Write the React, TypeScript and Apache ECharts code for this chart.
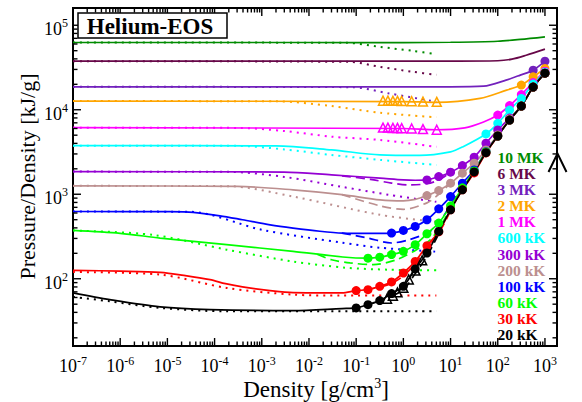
import React, { useEffect, useRef } from 'react';
import * as echarts from 'echarts';

type Pt = [number, number];

const SERIF = '"Liberation Serif", "Times New Roman", serif';

// Axis ranges: density [g/cm3] and pressure/density [kJ/g]
const RHO_MIN = 1e-7;
const RHO_MAX = 1800;
const PD_MIN = 16;
const PD_MAX = 160000;

// Densities of the simulation points (circles) and of the triangle points
const RHO_GRID = [0.1, 0.178, 0.316, 0.562, 1, 1.78, 3.16, 5.62, 10, 17.8, 31.6, 56.2, 100, 178, 316, 562, 1000];
const RHO_TRI = [0.37, 0.47, 0.6, 0.75, 0.92, 1.5, 2.6, 5.1];
const RHO_TRI_20K = [0.45, 0.6, 0.75, 1.0, 1.3, 1.8, 2.5];

// 10 MK
const SOLID_10MK: Pt[] = [[1e-7, 62500], [0.01, 62500], [1, 62400], [10, 62900], [100, 64700], [300, 68000], [1000, 73000]];
const DOT_10MK: Pt[] = [[1e-7, 62500], [0.06, 62000], [0.32, 55400], [1.6, 49700], [5, 45500]];

// 6 MK
const SOLID_6MK: Pt[] = [[1e-7, 37600], [10, 37600], [100, 38000], [200, 39700], [400, 44200], [1000, 52100]];
const DOT_6MK: Pt[] = [[1e-7, 37600], [0.07, 36900], [0.32, 32200], [1.6, 28100], [5, 25900]];

// 3 MK
const SOLID_3MK: Pt[] = [[1e-7, 18700], [10, 18700], [50, 19000], [150, 22400], [300, 25700]];
const CIRC_3MK = [29400, 37600];
const DOT_3MK: Pt[] = [[1e-7, 18700], [0.08, 18500], [0.5, 15600], [5, 12400]];

// 2 MK
const SOLID_2MK: Pt[] = [[1e-7, 12670], [1, 12500], [5, 12230], [42, 13630], [154, 17080]];
const CIRC_2MK = [19570, 24530, 30820];
const TRI_2MK = [12800, 12800, 12750, 12750, 12700, 12600, 12500, 12400];
const DOT_2MK: Pt[] = [[1e-7, 12670], [0.002, 12600], [0.03, 11060], [0.32, 9220], [5, 8140]];

// 1 MK
const SOLID_1MK: Pt[] = [[1e-7, 6130], [1, 6000], [5, 5800], [20, 6100], [50, 7160]];
const CIRC_1MK = [8660, 11210, 15120, 20950, 28640];
const TRI_1MK = [6150, 6150, 6100, 6100, 6050, 6000, 5900, 5800];
const DOT_1MK: Pt[] = [[1e-7, 6130], [3e-4, 6100], [3e-3, 5600], [0.03, 4800], [0.32, 4390], [5, 3640]];

// 600 kK
const SOLID_600K: Pt[] = [[1e-7, 3760], [2e-3, 3740], [0.03, 3350], [0.32, 2920], [2.2, 2880], [10, 3170], [18, 3630]];
const CIRC_600K = [5170, 6910, 9920, 13630, 20110, 27870];
const DOT_600K: Pt[] = [[1e-7, 3760], [3e-4, 3740], [3e-3, 3390], [0.03, 2920], [0.32, 2550], [5, 2220]];

// 300 kK
const SOLID_300K: Pt[] = [[1e-7, 1853], [3e-3, 1830], [0.03, 1694], [0.32, 1550], [1, 1480], [1.78, 1465]];
const CIRC_300K = [1479, 1618, 1824, 2182, 2742, 4012, 5760, 7980, 11060, 18530, 27120];
const DASH_300K: Pt[] = [[0.05, 1650], [0.2, 1500], [0.56, 1357], [1.3, 1290], [3.16, 1330], [5.62, 1479], [10, 1824]];
const DOT_300K: Pt[] = [[1e-7, 1853], [2e-4, 1840], [3e-3, 1605], [0.05, 1223], [0.5, 984], [5, 813]];

// 200 kK
const SOLID_200K: Pt[] = [[1e-7, 1257], [3e-4, 1240], [4.6e-3, 1127], [0.05, 990], [0.32, 859], [1, 836], [1.78, 870]];
const CIRC_200K = [965, 1106, 1352, 1775, 2329, 3343, 5027, 7770, 11060, 18530, 27120];
const DASH_200K: Pt[] = [[0.05, 990], [0.32, 729], [1, 663], [3.16, 791], [5.62, 1000], [10, 1352]];
const DOT_200K: Pt[] = [[1e-7, 1257], [2e-4, 1245], [4.6e-3, 939], [0.32, 571], [5, 472]];

// 100 kK
const SOLID_100K: Pt[] = [[1e-7, 625], [1e-5, 622], [3.5e-5, 611], [1.3e-4, 556], [3.9e-4, 499], [1.5e-3, 435], [4.6e-3, 398], [0.017, 365], [0.052, 347], [0.2, 344]];
const CIRC_100K = [347, 373, 416, 499, 672, 939, 1352, 1942, 3192, 4893, 7556, 11060, 18530, 27120];
const DASH_100K: Pt[] = [[0.05, 347], [0.178, 303], [0.56, 265], [1.3, 289], [3.16, 347], [5, 416], [10, 750], [17.8, 1300]];
const DOT_100K: Pt[] = [[1e-7, 625], [3e-5, 620], [1e-3, 380], [0.05, 267], [0.32, 233], [5, 209]];

// 60 kK
const SOLID_60K: Pt[] = [[1e-7, 373], [1e-6, 345], [7e-6, 303], [1.8e-4, 253], [4.6e-3, 211], [0.052, 181]];
const CIRC_60K = [175, 180, 193, 211, 253, 341, 456, 729, 1190, 1889, 3168, 4893, 7556, 11060, 18530, 27120];
const DASH_60K: Pt[] = [[0.015, 195], [0.03, 168], [0.074, 154], [0.23, 147], [0.72, 168], [1.9, 221], [3.7, 289], [5.62, 390], [10, 680], [17.8, 1150]];
const DOT_60K: Pt[] = [[1e-7, 373], [5e-6, 330], [1.8e-4, 221], [4.6e-3, 160], [0.06, 135], [0.5, 128], [5, 126]];

// 30 kK
const SOLID_30K: Pt[] = [[1e-7, 125.7], [1e-6, 123], [7e-6, 119], [2.4e-5, 109], [8e-5, 97.6], [1.7e-4, 87.5], [3.9e-4, 80], [1.5e-3, 72.4], [4.6e-3, 68.5], [0.05, 68]];
const CIRC_30K = [72.4, 74.3, 81.4, 91.7, 117, 160.5, 246, 360, 654, 1127, 1789, 3083, 4893, 7556, 11060, 18530, 27120];
const DASH_30K: Pt[] = [[0.316, 80], [0.562, 88], [1, 108], [1.78, 150], [3.16, 230], [5.62, 345], [10, 640]];
const DOT_30K: Pt[] = [[1e-7, 120], [7e-6, 112], [1.8e-4, 77.9], [4.6e-3, 64.9], [0.05, 63.2], [5, 63.2]];

// 20 kK
const SOLID_20K: Pt[] = [[1e-7, 68], [6e-7, 56.6], [7e-6, 46.5], [8e-5, 43.2], [4.6e-3, 42], [0.05, 44.4]];
const CIRC_20K = [45.2, 49.4, 55.1, 66.7, 81.4, 130.6, 201.6, 362.7, 654, 1127, 1839, 3107, 4893, 7556, 11060, 18530, 27120];
const TRI_20K = [58, 63, 69, 78, 98, 125, 165];
const DASH_20K: Pt[] = [[0.562, 62], [1, 74], [1.78, 115], [3.16, 185], [5.62, 340]];
const DOT_20K: Pt[] = [[1e-7, 61], [6e-7, 54.1], [7e-6, 45.2], [1.8e-4, 41.2], [5, 41.2]];

const onGrid = (start: number, vals: number[]): Pt[] => vals.map((v, i) => [RHO_GRID[start + i], v] as Pt);
const zip = (xs: number[], ys: number[]): Pt[] => ys.map((y, i) => [xs[i], y] as Pt);

interface Curve {
  label: string;
  color: string;
  solid: Pt[];
  dotted: Pt[];
  dashed?: Pt[];
  circles?: Pt[];
  triangles?: Pt[];
}

const CURVES: Curve[] = [
  { label: '10 MK', color: '#008B00', solid: SOLID_10MK, dotted: DOT_10MK },
  { label: '6 MK', color: '#670748', solid: SOLID_6MK, dotted: DOT_6MK },
  { label: '3 MK', color: '#7221BC', solid: SOLID_3MK, dotted: DOT_3MK, circles: onGrid(15, CIRC_3MK) },
  { label: '2 MK', color: '#FFA500', solid: SOLID_2MK, dotted: DOT_2MK, circles: onGrid(14, CIRC_2MK), triangles: zip(RHO_TRI, TRI_2MK) },
  { label: '1 MK', color: '#FF00FF', solid: SOLID_1MK, dotted: DOT_1MK, circles: onGrid(12, CIRC_1MK), triangles: zip(RHO_TRI, TRI_1MK) },
  { label: '600 kK', color: '#00FFFF', solid: SOLID_600K, dotted: DOT_600K, circles: onGrid(11, CIRC_600K) },
  { label: '300 kK', color: '#9400D3', solid: SOLID_300K, dotted: DOT_300K, dashed: DASH_300K, circles: onGrid(6, CIRC_300K) },
  { label: '200 kK', color: '#BC8F8F', solid: SOLID_200K, dotted: DOT_200K, dashed: DASH_200K, circles: onGrid(6, CIRC_200K) },
  { label: '100 kK', color: '#0000FF', solid: SOLID_100K, dotted: DOT_100K, dashed: DASH_100K, circles: onGrid(3, CIRC_100K) },
  { label: '60 kK', color: '#00FF00', solid: SOLID_60K, dotted: DOT_60K, dashed: DASH_60K, circles: onGrid(1, CIRC_60K) },
  { label: '30 kK', color: '#FF0000', solid: SOLID_30K, dotted: DOT_30K, dashed: DASH_30K, circles: onGrid(0, CIRC_30K) },
  { label: '20 kK', color: '#000000', solid: SOLID_20K, dotted: DOT_20K, dashed: DASH_20K, circles: onGrid(0, CIRC_20K), triangles: zip(RHO_TRI_20K, TRI_20K) },
];

const MAJOR_TICK = 8;
const MINOR_TICK = 4.5;

function buildSeries(): any[] {
  const out: any[] = [];
  CURVES.forEach((c) => {
    out.push({
      type: 'line', name: c.label, data: [...c.solid, ...(c.circles || [])],
      showSymbol: false, smooth: 0.3,
      lineStyle: { color: c.color, width: 1.7 }, z: 3,
    });
    out.push({
      type: 'line', name: c.label + ' dotted', data: c.dotted,
      showSymbol: false, smooth: 0.3,
      lineStyle: { color: c.color, width: 2, type: [2, 5] }, z: 2,
    });
    if (c.dashed) {
      out.push({
        type: 'line', name: c.label + ' dashed', data: c.dashed,
        showSymbol: false, smooth: 0.3,
        lineStyle: { color: c.color, width: 1.7, type: [9, 5] }, z: 2,
      });
    }
    if (c.circles) {
      out.push({
        type: 'scatter', name: c.label + ' points', data: c.circles,
        symbol: 'circle', symbolSize: 9,
        itemStyle: { color: c.color, opacity: 1 }, z: 4,
      });
    }
    if (c.triangles) {
      out.push({
        type: 'scatter', name: c.label + ' triangles', data: c.triangles,
        symbol: 'triangle', symbolSize: 9,
        itemStyle: { color: 'rgba(255,255,255,0)', borderColor: c.color, borderWidth: 1.5, opacity: 1 }, z: 4,
      });
    }
  });

  // Major and minor log ticks on all four sides of the frame
  out.push({
    type: 'custom', silent: true, z: 10, clip: false,
    data: [[1, 1000]],
    renderItem: (params: any, api: any) => {
      const cs = params.coordSys;
      const l = cs.x, r = cs.x + cs.width, t = cs.y, b = cs.y + cs.height;
      const st = { stroke: '#000', lineWidth: 1.4 };
      const kids: any[] = [];
      for (let d = -7; d <= 3; d++) {
        for (let k = 1; k <= 9; k++) {
          const v = k * Math.pow(10, d);
          if (v < RHO_MIN * 0.999 || v > RHO_MAX) continue;
          const x = api.coord([v, 1000])[0];
          const len = k === 1 ? MAJOR_TICK : MINOR_TICK;
          kids.push({ type: 'line', shape: { x1: x, y1: b, x2: x, y2: b - len }, style: st });
          kids.push({ type: 'line', shape: { x1: x, y1: t, x2: x, y2: t + len }, style: st });
        }
      }
      for (let d = 1; d <= 5; d++) {
        for (let k = 1; k <= 9; k++) {
          const v = k * Math.pow(10, d);
          if (v < PD_MIN || v > PD_MAX) continue;
          const y = api.coord([1, v])[1];
          const len = k === 1 ? MAJOR_TICK : MINOR_TICK;
          kids.push({ type: 'line', shape: { x1: l, y1: y, x2: l + len, y2: y }, style: st });
          kids.push({ type: 'line', shape: { x1: r, y1: y, x2: r - len, y2: y }, style: st });
        }
      }
      return { type: 'group', children: kids };
    },
  });
  return out;
}

const expLabelX = (v: number) =>
  Math.abs(v - Math.round(v)) < 1e-6 ? `{b|10}{s|${Math.round(v)}}` : '';

const powLabelY = (v: number) => {
  const e = Math.log10(v);
  const r = Math.round(e);
  return Math.abs(e - r) < 1e-6 ? `{b|10}{s|${r}}` : '';
};

function buildOption(): any {
  const legendTexts = CURVES.map((c, i) => ({
    type: 'text', x: 497.5, y: 157.3 + 16.13 * i, z: 50,
    style: {
      text: c.label, fill: c.color, font: `bold 15.5px ${SERIF}`,
      align: 'left', verticalAlign: 'middle',
    },
  }));

  return {
    animation: false,
    backgroundColor: '#ffffff',
    grid: {
      left: 73, right: 25, top: 8, bottom: 56,
      show: true, borderColor: '#000', borderWidth: 2, backgroundColor: 'transparent',
    },
    xAxis: [
      { type: 'log', min: RHO_MIN, max: RHO_MAX, show: false },
      {
        type: 'value', min: -7, max: Math.log10(RHO_MAX), interval: 1, position: 'bottom',
        axisLine: { show: false }, axisTick: { show: false }, splitLine: { show: false },
        axisLabel: {
          formatter: expLabelX, margin: 9,
          rich: {
            b: { fontFamily: SERIF, fontSize: 18, lineHeight: 22, color: '#000' },
            s: { fontFamily: SERIF, fontSize: 12, lineHeight: 12, verticalAlign: 'top', color: '#000' },
          },
        },
      },
    ],
    yAxis: [
      {
        type: 'log', min: PD_MIN, max: PD_MAX, position: 'left',
        axisLine: { show: false }, axisTick: { show: false }, splitLine: { show: false },
        axisLabel: {
          formatter: powLabelY, margin: 5,
          rich: {
            b: { fontFamily: SERIF, fontSize: 18, lineHeight: 22, padding: [8, 0, 0, 0], color: '#000' },
            s: { fontFamily: SERIF, fontSize: 12, lineHeight: 12, padding: [3, 0, 0, 0], verticalAlign: 'top', color: '#000' },
          },
        },
      },
    ],
    series: buildSeries(),
    graphic: [
      {
        type: 'rect', z: 50,
        shape: { x: 78, y: 13, width: 149, height: 25 },
        style: { fill: '#fff', stroke: '#000', lineWidth: 1.5 },
      },
      {
        type: 'text', x: 150, y: 26, z: 51,
        style: { text: 'Helium-EOS', font: `bold 23px ${SERIF}`, fill: '#000', align: 'center', verticalAlign: 'middle' },
      },
      {
        type: 'text', x: 27, y: 176.5, rotation: Math.PI / 2, z: 50,
        style: { text: 'Pressure/Density [kJ/g]', font: `22px ${SERIF}`, fill: '#000', align: 'center', verticalAlign: 'middle' },
      },
      {
        type: 'text', x: 316, y: 389, z: 50,
        style: {
          text: '{a|Density [g/cm}{s|3}{a|]}', align: 'center', verticalAlign: 'middle',
          rich: {
            a: { fontFamily: SERIF, fontSize: 23, lineHeight: 26, fill: '#000', color: '#000' },
            s: { fontFamily: SERIF, fontSize: 14, lineHeight: 14, verticalAlign: 'top', fill: '#000', color: '#000' },
          },
        },
      },
      {
        type: 'polyline', z: 50,
        shape: { points: [[548.5, 172], [557.5, 153.5], [566.5, 172]] },
        style: { stroke: '#000', lineWidth: 2, fill: 'none' },
      },
      ...legendTexts,
    ],
  };
}

export default function App() {
  const ref = useRef<HTMLDivElement>(null);
  useEffect(() => {
    if (!ref.current) return;
    const chart = echarts.init(ref.current, undefined, { renderer: 'svg' });
    chart.setOption(buildOption());
    return () => chart.dispose();
  }, []);
  return <div ref={ref} style={{ position: 'fixed', left: 0, top: 0, width: 582, height: 402 }} />;
}
